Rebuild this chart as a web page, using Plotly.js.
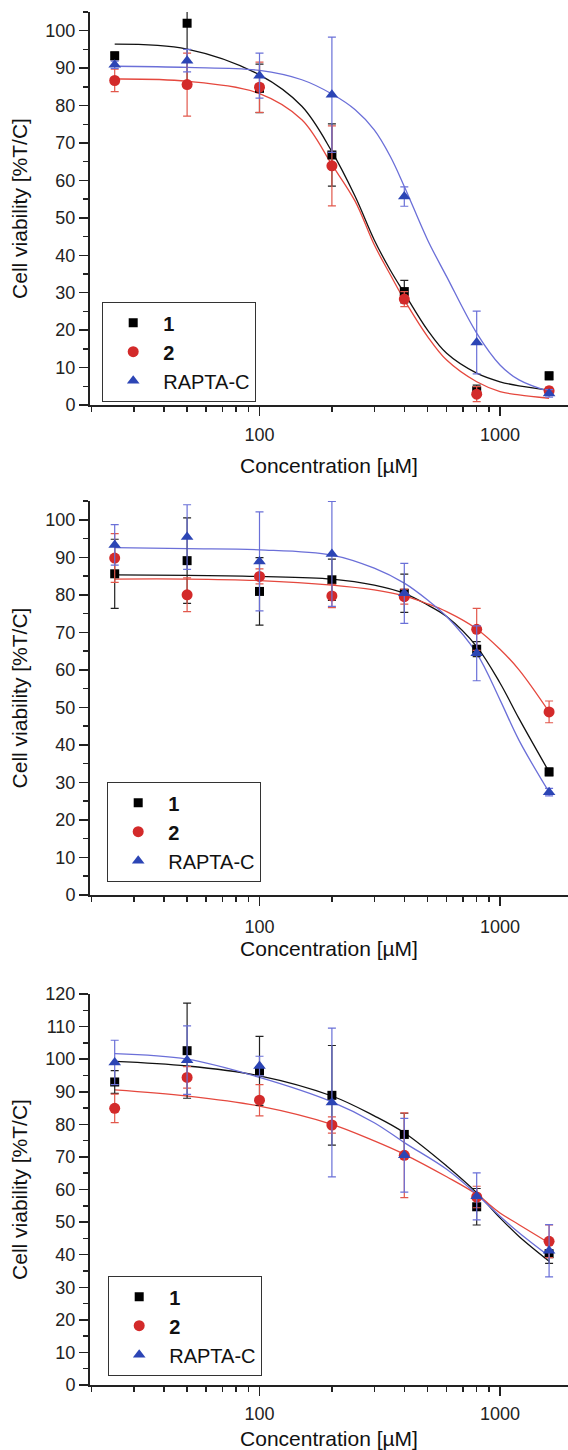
<!DOCTYPE html>
<html>
<head>
<meta charset="utf-8">
<script src="https://cdn.plot.ly/plotly-3.0.1.min.js"></script>
<style>html,body{margin:0;padding:0;background:#fff;}#chart{width:568px;height:1450px;}</style>
</head>
<body>
<div id="chart"></div>
<script>
// ---- data ----
const conc = [25, 50, 100, 200, 400, 800, 1600];
const seriesNames = ['<b>1</b>', '<b>2</b>', 'RAPTA-C'];

// Panel 1
const p1_c1 = [93.3, 102.0, 84.6, 66.8, 30.3, 3.8, 7.8];
const p1_c1_err = [1.0, 16.5, 6.5, 8.3, 3.0, 1.5, 1.0];
const p1_c2 = [86.7, 85.6, 84.9, 63.9, 28.3, 2.9, 3.8];
const p1_c2_err = [3.0, 8.4, 6.7, 10.7, 2.0, 2.0, 1.0];
const p1_c3 = [90.9, 92.0, 88.0, 82.9, 55.7, 16.7, 3.1];
const p1_c3_err = [1.0, 3.0, 6.0, 15.4, 2.6, 8.4, 1.0];
const p1_fitConc = [25, 50, 100, 150, 200, 250, 300, 350, 400, 500, 600, 800, 1000, 1200, 1600];
const p1_fit1 = [96.4, 95.1, 88.2, 79.8, 67.7, 55.7, 44.1, 36.0, 29.9, 20.0, 13.8, 8.5, 6.2, 5.1, 4.0];
const p1_fit2 = [87.1, 86.5, 83.2, 76.2, 64.2, 54.4, 42.8, 34.8, 28.1, 18.3, 12.0, 6.2, 3.6, 2.7, 1.8];
const p1_fit3 = [90.5, 90.2, 89.4, 86.9, 83.1, 78.9, 73.5, 66.4, 58.4, 44.1, 34.3, 19.2, 10.7, 6.7, 3.6];

// Panel 2
const p2_c1 = [85.6, 89.1, 80.9, 84.0, 80.4, 65.5, 32.8];
const p2_c1_err = [9.2, 11.4, 9.0, 5.5, 5.1, 2.0, 1.0];
const p2_c2 = [89.8, 80.0, 84.9, 79.7, 79.5, 70.8, 48.8];
const p2_c2_err = [6.5, 4.5, 2.0, 3.1, 2.0, 5.6, 2.9];
const p2_c3 = [93.3, 95.4, 88.9, 90.9, 80.4, 64.4, 27.4];
const p2_c3_err = [5.4, 8.6, 13.2, 14.0, 8.0, 7.3, 1.0];
const p2_fitConc = [25, 50, 100, 200, 300, 400, 500, 600, 800, 1000, 1200, 1600];
const p2_fit1 = [85.3, 85.2, 84.9, 84.2, 82.6, 80.4, 77.3, 74.2, 66.2, 56.5, 47.0, 32.8];
const p2_fit2 = [84.2, 84.2, 83.8, 82.6, 81.3, 79.7, 77.6, 75.5, 70.9, 65.5, 60.0, 48.8];
const p2_fit3 = [92.6, 92.3, 92.0, 90.6, 87.1, 83.1, 78.6, 74.2, 64.4, 52.0, 41.2, 27.4];

// Panel 3
const p3_c1 = [93.0, 102.6, 96.4, 88.9, 76.9, 54.7, 40.3];
const p3_c1_err = [3.5, 14.6, 10.6, 15.3, 6.5, 5.6, 3.0];
const p3_c2 = [84.9, 94.4, 87.4, 79.8, 70.5, 57.7, 44.1];
const p3_c2_err = [4.4, 3.3, 4.8, 2.5, 13.0, 3.3, 5.0];
const p3_c3 = [99.0, 99.7, 97.9, 86.7, 70.5, 57.9, 41.2];
const p3_c3_err = [6.8, 10.5, 3.0, 22.8, 11.3, 7.2, 8.0];
const p3_fitConc = [25, 50, 100, 200, 300, 400, 600, 800, 1000, 1200, 1600];
const p3_fit1 = [99.3, 97.9, 94.9, 88.7, 82.6, 77.4, 67.2, 59.0, 51.3, 45.6, 38.0];
const p3_fit2 = [90.6, 88.7, 85.6, 80.0, 74.9, 70.8, 63.9, 58.5, 52.8, 49.2, 43.6];
const p3_fit3 = [101.7, 100.0, 94.4, 86.9, 80.5, 74.4, 66.2, 58.5, 51.8, 46.7, 39.5];

// ticks
const xTickVals = [100, 1000];
const xTickText = ['100', '1000'];
const xMinorVals = [20, 30, 40, 50, 60, 70, 80, 90, 200, 300, 400, 500, 600, 700, 800, 900];
const yTickVals12 = [0, 10, 20, 30, 40, 50, 60, 70, 80, 90, 100];
const yTickVals3 = [0, 10, 20, 30, 40, 50, 60, 70, 80, 90, 100, 110, 120];

// ---- styling ----
const FONT = 'Liberation Sans, Arial, sans-serif';
const markerColors = ['#000000', '#d32a2a', '#2c45b5'];
const lineColors = ['#111111', '#e5483e', '#6b6fd8'];
const errColors = ['#222222', '#e2584c', '#6a70d8'];
const symbols = ['square', 'circle', 'triangle-up'];
const sizes = [9, 11, 11];
const W = 568, H = 1450;

const panels = [
  {pts: [[p1_c1, p1_c1_err], [p1_c2, p1_c2_err], [p1_c3, p1_c3_err]], fitX: p1_fitConc, fits: [p1_fit1, p1_fit2, p1_fit3]},
  {pts: [[p2_c1, p2_c1_err], [p2_c2, p2_c2_err], [p2_c3, p2_c3_err]], fitX: p2_fitConc, fits: [p2_fit1, p2_fit2, p2_fit3]},
  {pts: [[p3_c1, p3_c1_err], [p3_c2, p3_c2_err], [p3_c3, p3_c3_err]], fitX: p3_fitConc, fits: [p3_fit1, p3_fit2, p3_fit3]}
];

const traces = [];
panels.forEach((p, pi) => {
  const xa = pi === 0 ? 'x' : 'x' + (pi + 1);
  const ya = pi === 0 ? 'y' : 'y' + (pi + 1);
  const lg = pi === 0 ? 'legend' : 'legend' + (pi + 1);
  p.fits.forEach((f, si) => {
    traces.push({x: p.fitX, y: f, xaxis: xa, yaxis: ya, mode: 'lines', type: 'scatter',
      line: {color: lineColors[si], width: 1.3, shape: 'spline', smoothing: 1.0}, showlegend: false, hoverinfo: 'skip'});
  });
  p.pts.forEach((s, si) => {
    traces.push({x: conc, y: s[0], xaxis: xa, yaxis: ya, mode: 'markers', type: 'scatter', name: seriesNames[si], legend: lg,
      marker: {symbol: symbols[si], size: sizes[si], color: markerColors[si]},
      error_y: {type: 'data', array: s[1], visible: true, color: errColors[si], thickness: 1.2, width: 4}});
  });
});

const xDomain = [90 / W, 1];
const xRange = [1.29522, 3.28274];
function xAxis(anchor, standoff, labStand) {
  return {type: 'log', range: xRange, domain: xDomain, anchor: anchor,
    showline: true, linecolor: '#222', linewidth: 2, zeroline: false, showgrid: false,
    ticks: 'outside', ticklen: 9, tickwidth: 1.5, tickcolor: '#222',
    tickmode: 'array', tickvals: xTickVals, ticktext: xTickText, ticklabelstandoff: labStand,
    tickfont: {family: FONT, size: 18, color: '#222'},
    minor: {tickmode: 'array', tickvals: xMinorVals, ticklen: 5, tickwidth: 1.5, tickcolor: '#222', ticks: 'outside', showgrid: false},
    title: {text: 'Concentration [µM]', font: {family: FONT, size: 21, color: '#111'}, standoff: standoff}};
}
function yAxis(anchor, dom, range, vals) {
  return {domain: dom, range: range, anchor: anchor,
    showline: true, linecolor: '#222', linewidth: 2, zeroline: false, showgrid: false,
    ticks: 'outside', ticklen: 9, tickwidth: 1.5, tickcolor: '#222',
    tickmode: 'array', tickvals: vals,
    tickfont: {family: FONT, size: 18, color: '#222'},
    minor: {tickmode: 'linear', tick0: 0, dtick: 5, ticklen: 5, tickwidth: 1.5, tickcolor: '#222', ticks: 'outside', showgrid: false},
    title: {text: 'Cell viability [%T/C]', font: {family: FONT, size: 21, color: '#111'}, standoff: 12}};
}
function legendAt(x, y) {
  return {x: x, y: y, xanchor: 'left', yanchor: 'top', bgcolor: '#fff', bordercolor: '#333', borderwidth: 1.2,
    font: {family: FONT, size: 20, color: '#111'}, itemwidth: 50, tracegroupgap: 0, entrywidth: 110};
}

const layout = {
  width: W, height: H, margin: {l: 0, r: 0, t: 0, b: 0},
  paper_bgcolor: '#fff', plot_bgcolor: '#fff', showlegend: true,
  font: {family: FONT, color: '#111'},
  xaxis: xAxis('y', 15, 3),
  yaxis: yAxis('x', [1 - 405 / H, 1 - 12 / H], [0, 105], yTickVals12),
  xaxis2: xAxis('y2', 4, 5),
  yaxis2: yAxis('x2', [1 - 895 / H, 1 - 501 / H], [0, 105], yTickVals12),
  xaxis3: xAxis('y3', 18, 2),
  yaxis3: yAxis('x3', [1 - 1385 / H, 1 - 994 / H], [0, 120], yTickVals3),
  legend: legendAt(102 / W, 1 - 302 / H),
  legend2: legendAt(107 / W, 1 - 782 / H),
  legend3: legendAt(108 / W, 1 - 1276 / H)
};

Plotly.newPlot('chart', traces, layout, {staticPlot: true, displayModeBar: false});
</script>
</body>
</html>
